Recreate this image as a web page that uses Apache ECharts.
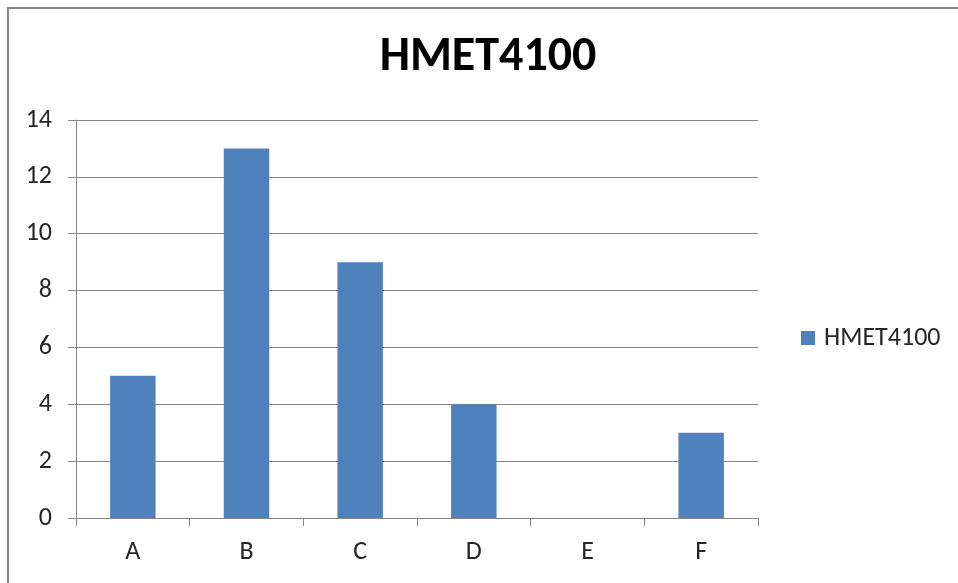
<!DOCTYPE html>
<html>
<head>
<meta charset="utf-8">
<script src="https://cdn.jsdelivr.net/npm/echarts@6/dist/echarts.min.js"></script>
<style>
  html, body { margin: 0; padding: 0; background: #ffffff; }
  #chart { width: 958px; height: 583px; }
</style>
</head>
<body>
<div id="chart"></div>
<script>
// Grade counts per letter
const categories = ['A', 'B', 'C', 'D', 'E', 'F'];
const seriesName = 'HMET4100';
const counts = [5, 13, 9, 4, 0, 3];
const yTicks = { min: 0, max: 14, interval: 2 };

const chart = echarts.init(document.getElementById('chart'));
const fontFamily = 'Carlito, Lato, "Liberation Sans", sans-serif';
const axisGray = '#868686';
const labelColor = '#262626';

chart.setOption({
  animation: false,
  backgroundColor: '#ffffff',
  textStyle: { fontFamily: fontFamily },
  graphic: [{
    type: 'rect',
    shape: { x: 8, y: 8, width: 1000, height: 1000 },
    style: { fill: 'none', stroke: '#878787', lineWidth: 2 },
    silent: true,
    z: 100
  }],
  title: {
    text: seriesName,
    left: 488,
    textAlign: 'center',
    top: 34,
    padding: 0,
    textStyle: { fontSize: 48, fontWeight: 'bold', color: '#000000', fontFamily: fontFamily }
  },
  legend: {
    show: true,
    left: 801,
    top: 325,
    padding: 0,
    orient: 'vertical',
    itemWidth: 14,
    itemHeight: 14,
    icon: 'rect',
    textStyle: { fontSize: 26, color: labelColor, fontFamily: fontFamily, padding: [0, 0, 0, 4] },
    data: [seriesName]
  },
  grid: { left: 76, right: 200, top: 120, bottom: 65, containLabel: false },
  xAxis: {
    type: 'category',
    data: categories,
    boundaryGap: true,
    axisLine: { show: true, lineStyle: { color: axisGray, width: 1 } },
    axisTick: { show: true, length: 8, alignWithLabel: false, lineStyle: { color: axisGray } },
    axisLabel: { margin: 21, fontSize: 26, color: labelColor },
    splitLine: { show: false }
  },
  yAxis: {
    type: 'value',
    min: yTicks.min,
    max: yTicks.max,
    interval: yTicks.interval,
    axisLine: { show: true, lineStyle: { color: axisGray, width: 1 } },
    axisTick: { show: true, length: 8, inside: false, lineStyle: { color: axisGray } },
    axisLabel: { margin: 24, fontSize: 26, color: labelColor },
    splitLine: { show: true, lineStyle: { color: axisGray, width: 1 } }
  },
  series: [{
    name: seriesName,
    type: 'bar',
    data: counts,
    barWidth: '40%',
    itemStyle: { color: '#4F81BD' }
  }]
});
</script>
</body>
</html>
